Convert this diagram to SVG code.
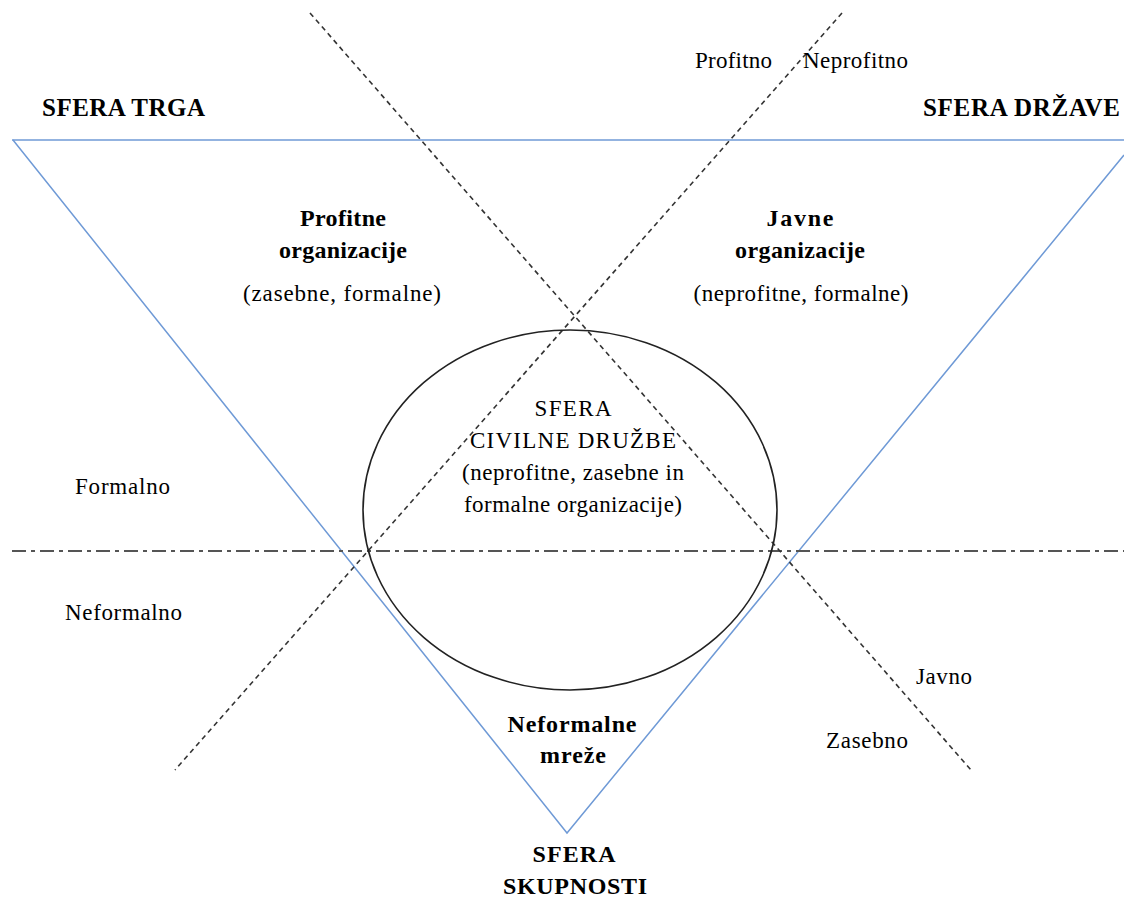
<svg xmlns="http://www.w3.org/2000/svg" width="1124" height="897" viewBox="0 0 1124 897">
<style>
text{font-family:'Liberation Serif','DejaVu Serif',serif;font-size:23px;fill:#000;lengthAdjust:spacing}
.b{font-weight:bold;font-size:24px}
.h{font-size:25px}
.m{text-anchor:middle}
.blue{stroke:#6f9ad6;stroke-width:1.5;fill:none}
.dash{stroke:#333;stroke-width:1.6;stroke-dasharray:5,4;fill:none}
.dd{stroke:#555;stroke-width:1.8;stroke-dasharray:14,5,4,5;fill:none}
</style>
<rect width="1124" height="897" fill="#fff"/>
<g id="connectors">
<line class="blue" x1="12" y1="140" x2="1124" y2="140"/>
<polyline class="blue" points="13,140 567,833 1124,155"/>
<line class="dd" x1="12" y1="551" x2="1124" y2="551"/>
<line class="dash" x1="310" y1="13" x2="971" y2="770"/>
<line class="dash" x1="842" y1="13" x2="175" y2="770"/>
</g>
<g id="civil">
<ellipse cx="570" cy="510" rx="207" ry="180" fill="none" stroke="#222" stroke-width="1.6"/>
<text class="m" x="573" y="416" textLength="77">SFERA</text>
<text class="m" x="573" y="448" textLength="206">CIVILNE DRUŽBE</text>
<text class="m" x="573" y="480" textLength="222">(neprofitne, zasebne in</text>
<text class="m" x="573" y="512" textLength="218">formalne organizacije)</text>
</g>
<g id="trg"><text class="b h" x="42" y="116" textLength="163">SFERA TRGA</text></g>
<g id="drzava"><text class="b h" x="923" y="116" textLength="197">SFERA DRŽAVE</text></g>
<g id="skupnost">
<text class="b m" x="574" y="862" textLength="83">SFERA</text>
<text class="b m" x="575" y="894" textLength="144">SKUPNOSTI</text>
</g>
<g id="profitne">
<text class="b m" x="343" y="226" textLength="86">Profitne</text>
<text class="b m" x="343" y="258" textLength="128">organizacije</text>
<text class="m" x="342" y="301" textLength="198">(zasebne, formalne)</text>
</g>
<g id="javne">
<text class="b m" x="800" y="226" textLength="67">Javne</text>
<text class="b m" x="800" y="258" textLength="130">organizacije</text>
<text class="m" x="801" y="301" textLength="215">(neprofitne, formalne)</text>
</g>
<g id="mreze">
<text class="b m" x="572" y="732" textLength="129">Neformalne</text>
<text class="b m" x="573" y="763" textLength="66">mreže</text>
</g>
<g id="labels">
<text x="695" y="68" textLength="77">Profitno</text>
<text x="803" y="68" textLength="105">Neprofitno</text>
<text x="75" y="494" textLength="95">Formalno</text>
<text x="65" y="620" textLength="117">Neformalno</text>
<text x="916" y="684" textLength="56">Javno</text>
<text x="826" y="748" textLength="82">Zasebno</text>
</g>
</svg>
